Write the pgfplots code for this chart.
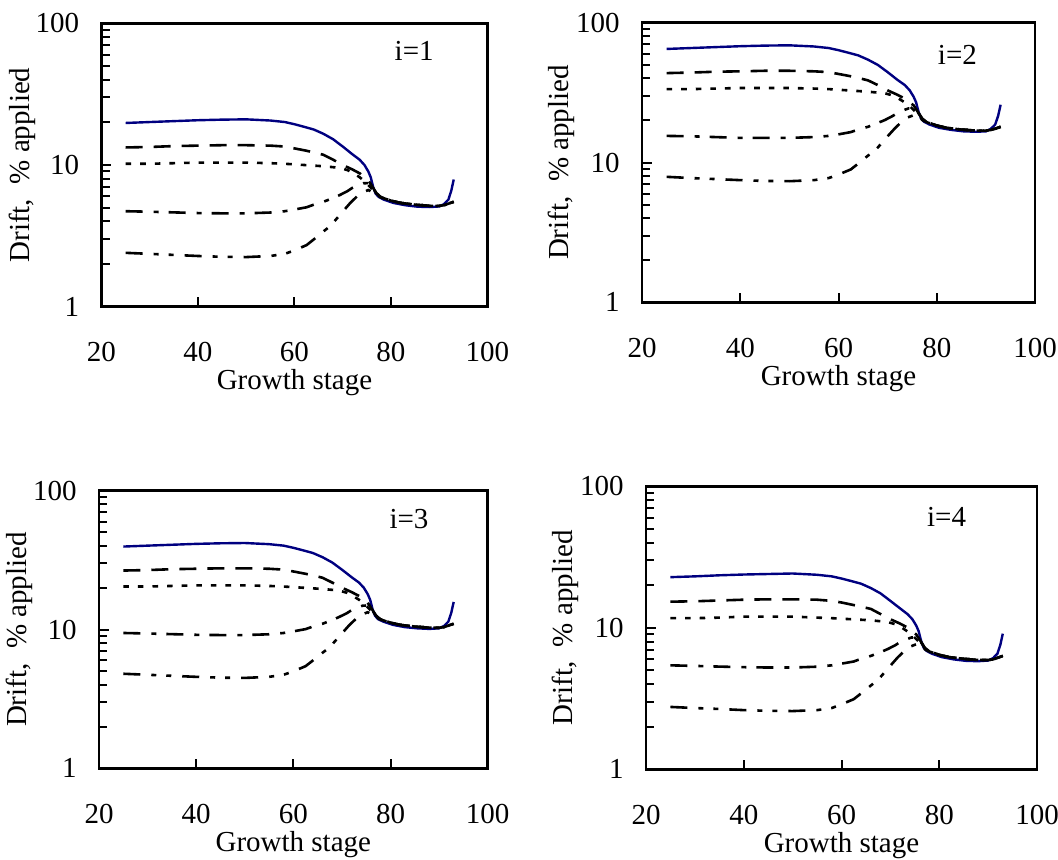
\documentclass[border=0pt]{standalone}
\usepackage{pgfplots}
\pgfplotsset{compat=1.18}
\usepackage{fontspec}
\setmainfont{Liberation Serif}
\definecolor{navy}{RGB}{0,0,128}
\pgfplotsset{
  panel/.style={
    scale only axis, anchor=south west,
    xmin=20, xmax=100, ymin=1, ymax=100,
    xtick={20,40,60,80,100}, xticklabels={20,40,60,80,100},
    ytick={1,10,100}, yticklabels={1,10,100},
    minor ytick={2,3,4,5,6,7,8,9,20,30,40,50,60,70,80,90},
    tick align=inside, xtick pos=bottom, ytick pos=left,
    major tick length=4.75pt, minor tick length=4pt,
    major tick style={line width=1pt,black},
    minor tick style={line width=1pt,black},
    axis line style={line width=1.3pt},
    xticklabel style={anchor=center, yshift=-22.7pt},
    yticklabel style={anchor=east, inner sep=0pt, xshift=-11pt},
    xlabel={Growth stage}, ylabel={Drift,~~\% applied},
    xlabel style={at={(axis description cs:0.5,0)}, anchor=center, yshift=-38pt},
    ylabel style={at={(axis description cs:-0.205,0.5)}, anchor=center},
  },
  sol/.style={navy, line width=1.2pt},
  lda/.style={black, line width=1.3pt, dash pattern=on 8.5pt off 5.5pt},
  dot/.style={black, line width=1.3pt, dash pattern=on 2.8pt off 4.5pt},
  dd/.style={black, line width=1.3pt, dash pattern=on 8.5pt off 5.5pt on 2.5pt off 5pt},
  ddd/.style={black, line width=1.3pt, dash pattern=on 8.5pt off 5.5pt on 2.5pt off 5pt on 2.5pt off 5.5pt},
}
\begin{document}
\fontsize{14.5}{17}\selectfont
\begin{tikzpicture}
\useasboundingbox (0,0) rectangle (529pt,429.5pt);
% ---------------- i=1
\begin{axis}[ymode=log, panel, at={(50.75pt,276.15pt)}, width=193pt, height=141.7pt]
\addplot[sol] coordinates {(25,19.8)(30,20.1)(35,20.4)(40,20.7)(45,20.9)(50,21.0)(55,20.6)(58,20.1)(60,19.4)(62,18.6)(64,17.8)(66,16.6)(68,15.2)(70,13.5)(72,11.9)(73.5,10.9)(74.5,10.0)(75.3,9.0)(75.8,8.2)(76.3,7.0)(76.8,6.3)(77.4,5.97)(78.5,5.7)(80.5,5.4)(83,5.2)(85.5,5.08)(88,5.05)(90,5.1)(91,5.3)(91.9,5.7)(92.5,6.6)(93,7.9)};
\addplot[lda] coordinates {(25,13.3)(30,13.4)(35,13.6)(40,13.7)(45,13.8)(50,13.8)(55,13.7)(58,13.5)(60,13.1)(62,12.7)(64,12.3)(66,11.8)(68,10.9)(70,10.0)(72,9.3)(73.6,8.7)(75.3,7.8)(76.3,6.9)(77,6.3)(78,5.95)(80,5.6)(82,5.4)(85,5.25)(88,5.15)(90,5.15)(91,5.2)(92,5.35)(93,5.5)};
\addplot[dot] coordinates {(25,10.2)(30,10.2)(35,10.3)(40,10.4)(45,10.4)(50,10.4)(55,10.3)(58,10.2)(62,10.0)(66,9.8)(69.4,9.55)(71,9.2)(72.2,8.75)(73.5,8.2)(74.5,7.7)(75.7,7.0)(77,6.2)(78,5.9)(80,5.6)(82,5.4)(85,5.25)(88,5.15)(90,5.15)(91,5.2)(92,5.35)(93,5.5)};
\addplot[dd] coordinates {(25,4.72)(30,4.68)(35,4.63)(40,4.58)(45,4.56)(50,4.56)(55,4.62)(58,4.72)(60,4.85)(62.5,5.03)(64,5.25)(66,5.5)(68,5.85)(69.4,6.14)(71,6.55)(72,6.9)(73,7.15)(74.3,7.43)(75.3,7.45)(76,7.1)(77,6.3)(78,5.9)(80,5.6)(82,5.4)(85,5.25)(88,5.15)(90,5.15)(91,5.2)(92,5.35)(93,5.5)};
\addplot[ddd] coordinates {(25,2.40)(30,2.36)(35,2.32)(40,2.28)(45,2.25)(50,2.24)(55,2.28)(58,2.36)(60,2.5)(62.5,2.72)(64.6,3.1)(66,3.4)(67.4,3.7)(69.4,4.44)(71.5,5.37)(73.6,6.31)(75.3,6.66)(76.3,6.4)(77,6.15)(78,5.9)(80,5.6)(82,5.4)(85,5.25)(88,5.15)(90,5.15)(91,5.2)(92,5.35)(93,5.5)};
\node at (axis cs:84.8,63.4) {i=1};
\end{axis}
% ---------------- i=2
\begin{axis}[ymode=log, panel, at={(321pt,278.35pt)}, width=196.5pt, height=139.8pt]
\addplot[sol] coordinates {(25,64.9)(30,65.9)(35,66.9)(40,67.9)(45,68.6)(50,68.9)(55,67.6)(58,65.9)(60,63.6)(62,61.0)(64,58.4)(66,54.4)(68,49.9)(70,44.3)(72,39.0)(73.5,35.8)(74.5,32.8)(75.3,29.5)(75.8,26.9)(76.3,23.0)(76.8,20.7)(77.4,19.6)(78.5,18.7)(80.5,17.7)(83,17.1)(85.5,16.7)(88,16.6)(90,16.7)(91,17.4)(91.9,18.7)(92.5,21.6)(93,25.9)};
\addplot[lda] coordinates {(25,43.6)(30,44.0)(35,44.6)(40,44.9)(45,45.3)(50,45.3)(55,44.9)(58,44.3)(60,43.0)(62,41.7)(64,40.3)(66,38.7)(68,35.8)(70,32.8)(72,30.5)(73.6,28.5)(75.3,25.6)(76.3,22.6)(77,20.7)(78,19.5)(80,18.4)(82,17.7)(85,17.2)(88,16.9)(90,16.9)(91,17.1)(92,17.5)(93,18.0)};
\addplot[dot] coordinates {(25,33.5)(30,33.5)(35,33.8)(40,34.1)(45,34.1)(50,34.1)(55,33.8)(58,33.5)(62,32.8)(66,32.1)(69.4,31.3)(71,30.2)(72.2,28.7)(73.5,26.9)(74.5,25.3)(75.7,23.0)(77,20.3)(78,19.4)(80,18.4)(82,17.7)(85,17.2)(88,16.9)(90,16.9)(91,17.1)(92,17.5)(93,18.0)};
\addplot[dd] coordinates {(25,15.5)(30,15.4)(35,15.2)(40,15.0)(45,15.0)(50,15.0)(55,15.2)(58,15.5)(60,15.9)(62.5,16.5)(64,17.2)(66,18.0)(68,19.2)(69.4,20.1)(71,21.5)(72,22.6)(73,23.5)(74.3,24.4)(75.3,24.4)(76,23.3)(77,20.7)(78,19.4)(80,18.4)(82,17.7)(85,17.2)(88,16.9)(90,16.9)(91,17.1)(92,17.5)(93,18.0)};
\addplot[ddd] coordinates {(25,7.9)(30,7.74)(35,7.61)(40,7.48)(45,7.38)(50,7.35)(55,7.48)(58,7.74)(60,8.2)(62.5,8.92)(64.6,10.2)(66,11.2)(67.4,12.1)(69.4,14.6)(71.5,17.6)(73.6,20.7)(75.3,21.8)(76.3,21.0)(77,20.2)(78,19.4)(80,18.4)(82,17.7)(85,17.2)(88,16.9)(90,16.9)(91,17.1)(92,17.5)(93,18.0)};
\node at (axis cs:84.2,59) {i=2};
\end{axis}
% ---------------- i=3
\begin{axis}[ymode=log, panel, at={(49.5pt,45.35pt)}, width=194.35pt, height=138.8pt]
\addplot[sol] coordinates {(25,39.6)(30,40.2)(35,40.8)(40,41.4)(45,41.8)(50,42.0)(55,41.2)(58,40.2)(60,38.8)(62,37.2)(64,35.6)(66,33.2)(68,30.4)(70,27.0)(72,23.8)(73.5,21.8)(74.5,20.0)(75.3,18.0)(75.8,16.4)(76.3,14.0)(76.8,12.6)(77.4,11.9)(78.5,11.4)(80.5,10.8)(83,10.4)(85.5,10.2)(88,10.1)(90,10.2)(91,10.6)(91.9,11.4)(92.5,13.2)(93,15.8)};
\addplot[lda] coordinates {(25,26.6)(30,26.8)(35,27.2)(40,27.4)(45,27.6)(50,27.6)(55,27.4)(58,27.0)(60,26.2)(62,25.4)(64,24.6)(66,23.6)(68,21.8)(70,20.0)(72,18.6)(73.6,17.4)(75.3,15.6)(76.3,13.8)(77,12.6)(78,11.9)(80,11.2)(82,10.8)(85,10.5)(88,10.3)(90,10.3)(91,10.4)(92,10.7)(93,11.0)};
\addplot[dot] coordinates {(25,20.4)(30,20.4)(35,20.6)(40,20.8)(45,20.8)(50,20.8)(55,20.6)(58,20.4)(62,20.0)(66,19.6)(69.4,19.1)(71,18.4)(72.2,17.5)(73.5,16.4)(74.5,15.4)(75.7,14.0)(77,12.4)(78,11.8)(80,11.2)(82,10.8)(85,10.5)(88,10.3)(90,10.3)(91,10.4)(92,10.7)(93,11.0)};
\addplot[dd] coordinates {(25,9.44)(30,9.36)(35,9.26)(40,9.16)(45,9.12)(50,9.12)(55,9.24)(58,9.44)(60,9.7)(62.5,10.06)(64,10.5)(66,11.0)(68,11.7)(69.4,12.3)(71,13.1)(72,13.8)(73,14.3)(74.3,14.86)(75.3,14.9)(76,14.2)(77,12.6)(78,11.8)(80,11.2)(82,10.8)(85,10.5)(88,10.3)(90,10.3)(91,10.4)(92,10.7)(93,11.0)};
\addplot[ddd] coordinates {(25,4.8)(30,4.72)(35,4.64)(40,4.56)(45,4.5)(50,4.48)(55,4.56)(58,4.72)(60,5.0)(62.5,5.44)(64.6,6.2)(66,6.8)(67.4,7.4)(69.4,8.88)(71.5,10.74)(73.6,12.62)(75.3,13.32)(76.3,12.8)(77,12.3)(78,11.8)(80,11.2)(82,10.8)(85,10.5)(88,10.3)(90,10.3)(91,10.4)(92,10.7)(93,11.0)};
\node at (axis cs:83.8,62) {i=3};
\end{axis}
% ---------------- i=4
\begin{axis}[ymode=log, panel, at={(323pt,44.85pt)}, width=195.5pt, height=141.5pt]
\addplot[sol] coordinates {(25,22.8)(30,23.1)(35,23.5)(40,23.8)(45,24.0)(50,24.2)(55,23.7)(58,23.1)(60,22.3)(62,21.4)(64,20.5)(66,19.1)(68,17.5)(70,15.5)(72,13.7)(73.5,12.5)(74.5,11.5)(75.3,10.35)(75.8,9.43)(76.3,8.05)(76.8,7.25)(77.4,6.87)(78.5,6.56)(80.5,6.21)(83,5.98)(85.5,5.84)(88,5.81)(90,5.87)(91,6.1)(91.9,6.56)(92.5,7.59)(93,9.09)};
\addplot[lda] coordinates {(25,15.3)(30,15.4)(35,15.6)(40,15.8)(45,15.9)(50,15.9)(55,15.8)(58,15.5)(60,15.1)(62,14.6)(64,14.1)(66,13.6)(68,12.5)(70,11.5)(72,10.7)(73.6,10.0)(75.3,8.97)(76.3,7.94)(77,7.25)(78,6.84)(80,6.44)(82,6.21)(85,6.04)(88,5.92)(90,5.92)(91,5.98)(92,6.15)(93,6.33)};
\addplot[dot] coordinates {(25,11.7)(30,11.7)(35,11.8)(40,12.0)(45,12.0)(50,12.0)(55,11.8)(58,11.7)(62,11.5)(66,11.3)(69.4,11.0)(71,10.6)(72.2,10.1)(73.5,9.43)(74.5,8.86)(75.7,8.05)(77,7.13)(78,6.79)(80,6.44)(82,6.21)(85,6.04)(88,5.92)(90,5.92)(91,5.98)(92,6.15)(93,6.33)};
\addplot[dd] coordinates {(25,5.43)(30,5.38)(35,5.32)(40,5.27)(45,5.24)(50,5.24)(55,5.31)(58,5.43)(60,5.58)(62.5,5.78)(64,6.04)(66,6.33)(68,6.73)(69.4,7.06)(71,7.53)(72,7.94)(73,8.22)(74.3,8.54)(75.3,8.57)(76,8.17)(77,7.25)(78,6.79)(80,6.44)(82,6.21)(85,6.04)(88,5.92)(90,5.92)(91,5.98)(92,6.15)(93,6.33)};
\addplot[ddd] coordinates {(25,2.76)(30,2.71)(35,2.67)(40,2.62)(45,2.59)(50,2.58)(55,2.62)(58,2.71)(60,2.88)(62.5,3.13)(64.6,3.57)(66,3.91)(67.4,4.26)(69.4,5.11)(71.5,6.18)(73.6,7.26)(75.3,7.66)(76.3,7.36)(77,7.07)(78,6.79)(80,6.44)(82,6.21)(85,6.04)(88,5.92)(90,5.92)(91,5.98)(92,6.15)(93,6.33)};
\node at (axis cs:81.5,60.5) {i=4};
\end{axis}
\end{tikzpicture}
\end{document}
